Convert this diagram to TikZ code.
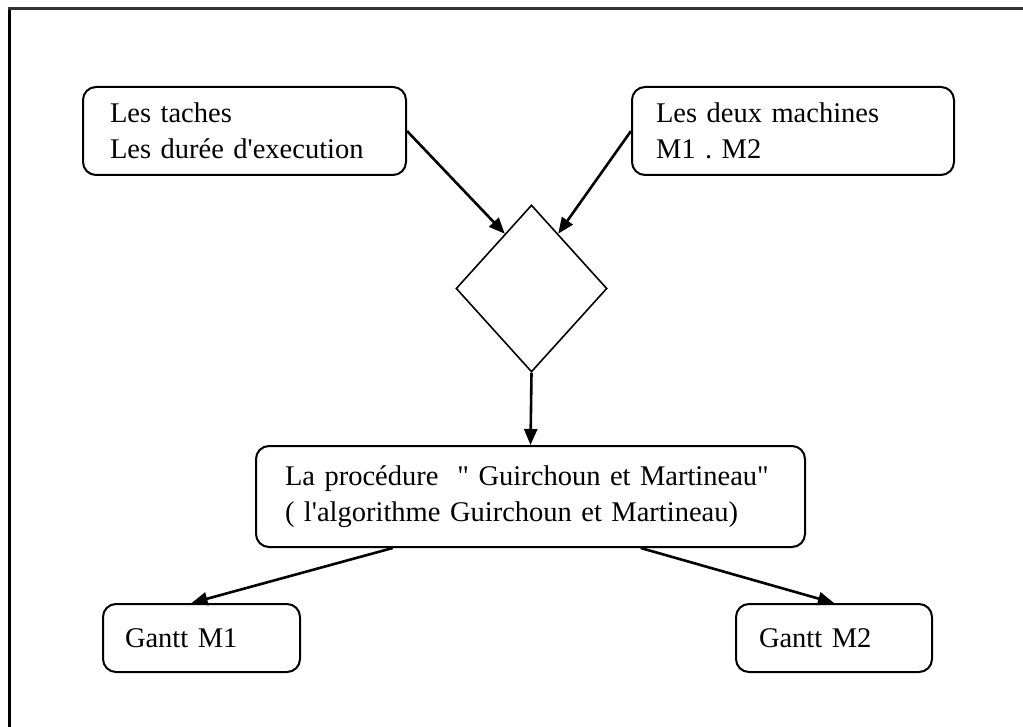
\documentclass[tikz,border=0pt]{standalone}
\usepackage{fontspec}
\setmainfont{Liberation Serif}[Ligatures=TeXOff]
\usetikzlibrary{shapes.geometric,arrows.meta,calc}
\frenchspacing

\tikzset{
  roundbox/.style={draw, line width=2pt, rounded corners=13pt, align=left,
    font=\fontsize{28.5}{36}\selectfont, inner ysep=0pt},
  flow/.style={draw, line width=2.6pt,
    -{Triangle[length=16pt,width=13pt]}},
  decision/.style={draw, shape=diamond, line width=1.6pt, inner sep=0pt},
}

\begin{document}
\begin{tikzpicture}[x=1pt,y=-1pt]
  \path[use as bounding box] (0,0) rectangle (1023,727);

  % page frame (left and top edges)
  \draw[line width=3pt] (9,740) -- (9,9);
  \draw[line width=3pt, black!80] (7.5,9) -- (1040,9);

  % inputs
  \node[roundbox, minimum width=323pt, minimum height=88pt,
        inner xsep=27pt, text width=269pt] (tasks) at (244.5,131)
        {Les taches\\Les durée d'execution};
  \node[roundbox, minimum width=322pt, minimum height=88pt,
        inner xsep=24pt, text width=274pt] (machines) at (793,131)
        {Les deux machines\\M1 . M2};

  % decision
  \node[decision, minimum width=151pt, minimum height=167pt] (dec) at (531.5,288.5) {};

  % procedure
  \node[roundbox, minimum width=549pt, minimum height=101pt,
        inner xsep=29pt, text width=491pt] (proc) at (530.5,496.5)
        {La procédure \ " Guirchoun et Martineau"\\( l'algorithme Guirchoun et Martineau)};

  % outputs
  \node[roundbox, minimum width=197pt, minimum height=68pt,
        inner xsep=22pt, text width=153pt] (g1) at (201.5,638) {Gantt M1};
  \node[roundbox, minimum width=196pt, minimum height=68pt,
        inner xsep=23pt, text width=150pt] (g2) at (834,638) {Gantt M2};

  % connectors
  \draw[flow] (tasks.east) -- ($(dec.north)!0.35!(dec.west)$);
  \draw[flow] (machines.west) -- ($(dec.north)!0.35!(dec.east)$);
  \draw[flow] (dec.south) -- (proc.north);
  \draw[flow] ($(proc.south west)!0.25!(proc.south east)$) -- ($(g1.north west)!0.45!(g1.north east)$);
  \draw[flow] ($(proc.south west)!0.7!(proc.south east)$) -- (g2.north);
\end{tikzpicture}
\end{document}
